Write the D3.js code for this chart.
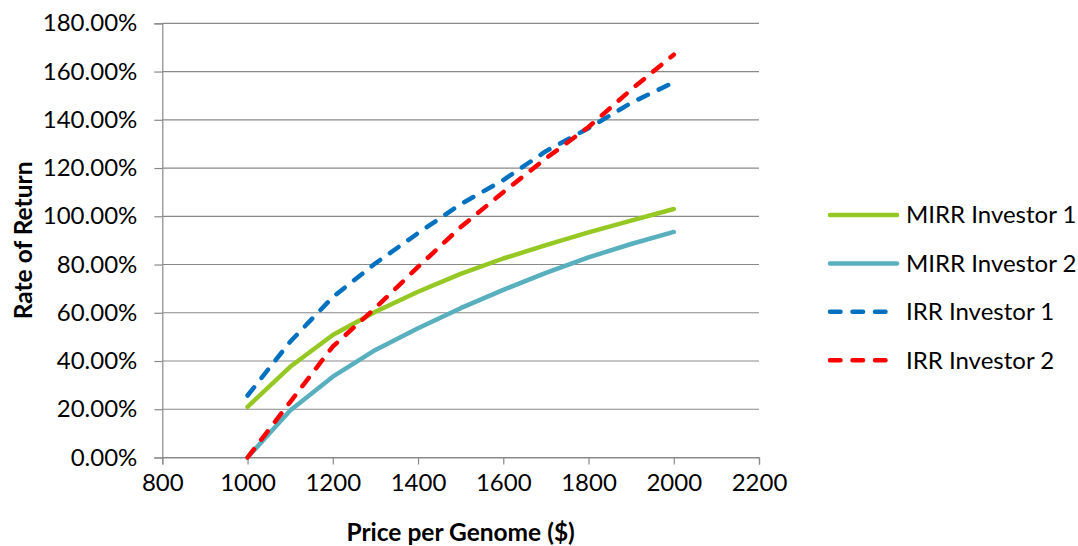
<!DOCTYPE html>
<html>
<head>
<meta charset="utf-8">
<script src="https://cdn.jsdelivr.net/npm/d3@7"></script>
<style>
  html, body { margin: 0; padding: 0; background: #fff; }
  svg { display: block; font-family: Lato, "Open Sans", sans-serif; }
</style>
</head>
<body>
<svg id="chart" width="1078" height="546"></svg>
<script>
// Price per genome ($) at which each rate of return was computed
const prices = [1000, 1100, 1200, 1300, 1400, 1500, 1600, 1700, 1800, 1900, 2000];

// Rates of return (fractions)
const mirrInvestor1 = [0.21, 0.376, 0.508, 0.604, 0.687, 0.761, 0.825, 0.88, 0.933, 0.982, 1.03];
const mirrInvestor2 = [0.0, 0.195, 0.335, 0.446, 0.536, 0.619, 0.695, 0.765, 0.83, 0.885, 0.935];
const irrInvestor1  = [0.257, 0.48, 0.665, 0.805, 0.93, 1.05, 1.15, 1.27, 1.365, 1.47, 1.555];
const irrInvestor2  = [0.0, 0.23, 0.46, 0.62, 0.79, 0.955, 1.10, 1.24, 1.37, 1.525, 1.67];

const seriesNames = ["MIRR Investor 1", "MIRR Investor 2", "IRR Investor 1", "IRR Investor 2"];
const xTicks = [800, 1000, 1200, 1400, 1600, 1800, 2000, 2200];
const yTicks = [0, 0.2, 0.4, 0.6, 0.8, 1.0, 1.2, 1.4, 1.6, 1.8];

const series = [
  { name: seriesNames[0], values: mirrInvestor1, color: "#96C823", dash: null },
  { name: seriesNames[1], values: mirrInvestor2, color: "#58AFBE", dash: null },
  { name: seriesNames[2], values: irrInvestor1,  color: "#0070C0", dash: "10.5,12" },
  { name: seriesNames[3], values: irrInvestor2,  color: "#FF0000", dash: "10.5,12" }
];

const svg = d3.select("#chart");
const gridColor = "#898989";
const fontSize = 24;
const titleSize = 24.5;

const x = d3.scaleLinear().domain([800, 2200]).range([162.3, 759]);
const y = d3.scaleLinear().domain([0, 1.8]).range([457.5, 23.3]);

// Horizontal gridlines
svg.append("g")
  .selectAll("line")
  .data(yTicks)
  .join("line")
  .attr("x1", x(800)).attr("x2", x(2200))
  .attr("y1", d => y(d)).attr("y2", d => y(d))
  .attr("stroke", gridColor).attr("stroke-width", 1.2);

// Y axis
const yAxis = svg.append("g")
  .attr("transform", `translate(${x(800)},0)`)
  .call(d3.axisLeft(y).tickValues(yTicks).tickFormat(d3.format(".2%")).tickSize(8).tickPadding(17));
yAxis.select(".domain").attr("stroke", gridColor).attr("stroke-width", 1.2);
yAxis.selectAll(".tick line").attr("stroke", gridColor).attr("stroke-width", 1.2);
yAxis.selectAll(".tick text")
  .attr("fill", "#000").style("font-size", fontSize + "px").style("font-family", "Lato, sans-serif");

// X axis
const xAxis = svg.append("g")
  .attr("transform", `translate(0,${y(0)})`)
  .call(d3.axisBottom(x).tickValues(xTicks).tickFormat(d3.format("d")).tickSize(7).tickPadding(9));
xAxis.select(".domain").attr("stroke", gridColor).attr("stroke-width", 1.2);
xAxis.selectAll(".tick line").attr("stroke", gridColor).attr("stroke-width", 1.2);
xAxis.selectAll(".tick text")
  .attr("fill", "#000").style("font-size", fontSize + "px").style("font-family", "Lato, sans-serif");

// Series lines
const line = d3.line()
  .x((d, i) => x(prices[i]))
  .y(d => y(d));

svg.append("g")
  .selectAll("path")
  .data(series)
  .join("path")
  .attr("d", d => line(d.values))
  .attr("fill", "none")
  .attr("stroke", d => d.color)
  .attr("stroke-width", 4.5)
  .attr("stroke-linecap", "round")
  .attr("stroke-linejoin", "round")
  .attr("stroke-dasharray", d => d.dash);

// Axis titles
svg.append("text")
  .attr("x", (x(800) + x(2200)) / 2)
  .attr("y", 541)
  .attr("text-anchor", "middle")
  .style("font-size", titleSize + "px").style("font-weight", "bold")
  .text("Price per Genome ($)");

svg.append("text")
  .attr("transform", `translate(32,${(y(0) + y(1.8)) / 2}) rotate(-90)`)
  .attr("text-anchor", "middle")
  .style("font-size", titleSize + "px").style("font-weight", "bold")
  .text("Rate of Return");

// Legend
const legend = svg.append("g")
  .selectAll("g")
  .data(series)
  .join("g")
  .attr("transform", (d, i) => `translate(0,${215 + i * 48.4})`);

legend.append("line")
  .attr("x1", 830).attr("x2", 897)
  .attr("y1", 0).attr("y2", 0)
  .attr("stroke", d => d.color)
  .attr("stroke-width", 4.5)
  .attr("stroke-linecap", "round")
  .attr("stroke-dasharray", d => d.dash);

legend.append("text")
  .attr("x", 906)
  .attr("y", 0)
  .attr("dy", "0.35em")
  .style("font-size", fontSize + "px")
  .text(d => d.name);
</script>
</body>
</html>
